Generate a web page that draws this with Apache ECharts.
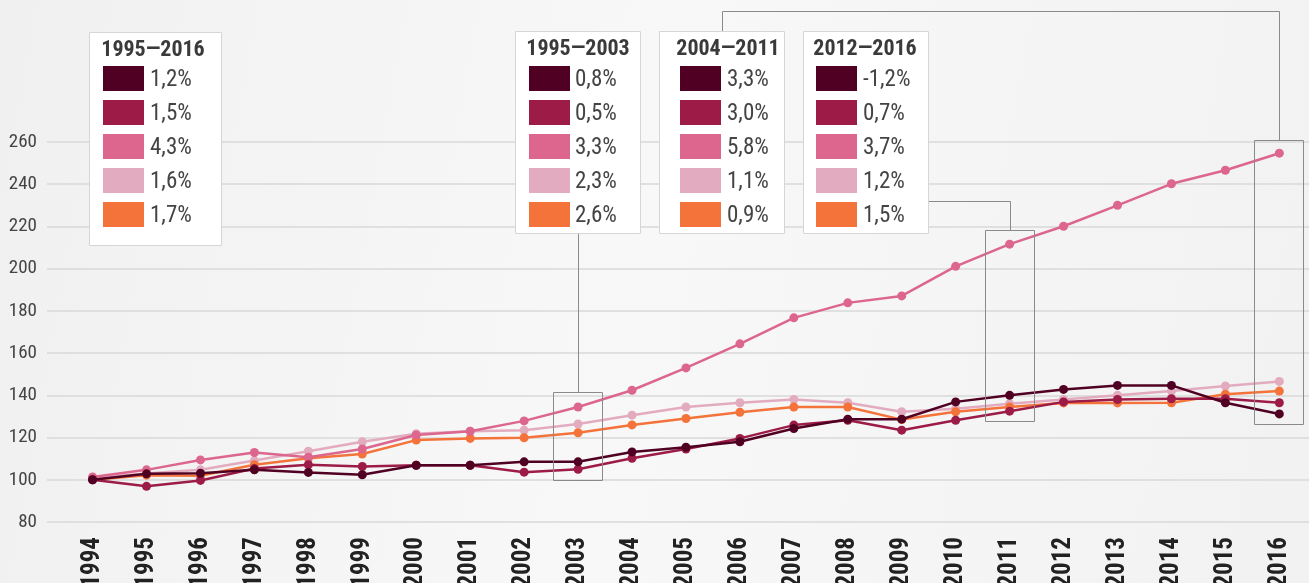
<!DOCTYPE html>
<html>
<head>
<meta charset="utf-8">
<script src="https://cdn.jsdelivr.net/npm/echarts@6/dist/echarts.min.js"></script>
<style>
  html, body { margin: 0; padding: 0; background: #f4f4f4; }
  #main { width: 1309px; height: 583px; }
</style>
</head>
<body>
<div id="main"></div>
<script>
  // data
  var years = ['1994', '1995', '1996', '1997', '1998', '1999', '2000', '2001', '2002', '2003', '2004',
    '2005', '2006', '2007', '2008', '2009', '2010', '2011', '2012', '2013', '2014', '2015', '2016'];
  var darkValues = [100, 102.8, 103.1, 104.7, 103.5, 102.4, 106.9, 106.9, 108.5, 108.5, 113.2,
    115.4, 118, 124.3, 128.7, 128.7, 136.9, 140, 142.8, 144.7, 144.7, 136.5, 131.2];
  var crimsonValues = [100, 96.9, 99.7, 105.3, 107.1, 106.3, 106.9, 106.9, 103.6, 105, 110.2,
    114.6, 119.6, 125.9, 128.2, 123.5, 128.2, 132.5, 136.9, 138, 138.4, 138.4, 136.5];
  var pinkValues = [101.3, 104.7, 109.4, 112.9, 110.7, 114.6, 121.2, 123, 127.9, 134.5, 142.4,
    153, 164.4, 176.7, 183.8, 187.1, 201.1, 211.6, 220.1, 230, 240.2, 246.6, 254.7];
  var lightPinkValues = [100.8, 103, 104.7, 109.1, 113.5, 118, 121.8, 123, 123.5, 126.4, 130.6,
    134.5, 136.5, 138, 136.5, 132.2, 133.7, 136, 138, 140, 142, 144.4, 146.6];
  var orangeValues = [100, 102.2, 101.9, 107.1, 110.2, 112.2, 118.8, 119.6, 119.9, 122.3, 126,
    129, 132, 134.5, 134.5, 128.5, 132.2, 134.5, 136.4, 136.4, 136.5, 140.5, 142];

  var yTicks = [80, 100, 120, 140, 160, 180, 200, 220, 240, 260];

  var periods = ['1995—2016', '1995—2003', '2004—2011', '2012—2016'];
  var rates1995_2016 = ['1,2%', '1,5%', '4,3%', '1,6%', '1,7%'];
  var rates1995_2003 = ['0,8%', '0,5%', '3,3%', '2,3%', '2,6%'];
  var rates2004_2011 = ['3,3%', '3,0%', '5,8%', '1,1%', '0,9%'];
  var rates2012_2016 = ['-1,2%', '0,7%', '3,7%', '1,2%', '1,5%'];

  var colors = ['#500022', '#9d1c47', '#dc668e', '#e3abbf', '#f4733a'];
  var narrow = '"Liberation Sans Narrow", "Roboto Condensed", "DejaVu Sans Condensed", sans-serif';

  var myChart = echarts.init(document.getElementById('main'));

  function lineSeries(name, values, color, z) {
    return {
      name: name,
      type: 'line',
      xAxisIndex: 0,
      yAxisIndex: 0,
      data: values,
      symbol: 'circle',
      symbolSize: 9,
      z: z,
      lineStyle: { color: color, width: 2.5 },
      itemStyle: { color: color }
    };
  }

  var option = {
    animation: false,
    backgroundColor: {
      type: 'linear', x: 0, y: 0, x2: 1, y2: 0.4,
      colorStops: [
        { offset: 0, color: '#f0f0f0' },
        { offset: 0.5, color: '#f8f8f8' },
        { offset: 1, color: '#f2f2f2' }
      ]
    },
    grid: [
      { left: 65.6, right: 2.7, top: 142, bottom: 61, outerBoundsMode: 'none' },
      { left: 47, right: 0, top: 142, bottom: 61, outerBoundsMode: 'none' }
    ],
    xAxis: [{
      type: 'category',
      gridIndex: 0,
      data: years,
      boundaryGap: true,
      axisLine: { show: false },
      axisTick: { show: false },
      axisLabel: {
        interval: 0,
        rotate: 90,
        margin: 15,
        fontSize: 25,
        fontWeight: 'bold',
        color: '#222',
        fontFamily: narrow
      }
    }, {
      type: 'value',
      gridIndex: 1,
      show: false
    }],
    yAxis: [{
      type: 'value',
      gridIndex: 0,
      min: yTicks[0],
      max: yTicks[yTicks.length - 1],
      interval: 20,
      show: false
    }, {
      type: 'value',
      gridIndex: 1,
      min: yTicks[0],
      max: yTicks[yTicks.length - 1],
      interval: 20,
      axisLine: { show: false },
      axisTick: { show: false },
      axisLabel: {
        margin: 10,
        fontSize: 19,
        color: '#444',
        fontFamily: narrow
      },
      splitLine: { lineStyle: { color: '#d9d9d9', width: 1.5 } }
    }],
    series: [
      lineSeries('lightpink', lightPinkValues, colors[3], 2),
      lineSeries('orange', orangeValues, colors[4], 3),
      lineSeries('pink', pinkValues, colors[2], 4),
      lineSeries('crimson', crimsonValues, colors[1], 5),
      lineSeries('dark', darkValues, colors[0], 6)
    ]
  };

  myChart.setOption(option);

  // legend boxes and annotation boxes
  var boxes = [
    { title: periods[0], rates: rates1995_2016, x: 89, y: 32, w: 132, h: 213, sw: 14, tx: 61, tc: 64 },
    { title: periods[1], rates: rates1995_2003, x: 515, y: 31, w: 125, h: 202, sw: 14, tx: 60, tc: 63 },
    { title: periods[2], rates: rates2004_2011, x: 659, y: 31, w: 125, h: 202, sw: 21, tx: 68, tc: 69 },
    { title: periods[3], rates: rates2012_2016, x: 803, y: 31, w: 125, h: 202, sw: 13, tx: 60, tc: 62 }
  ];

  var graphics = [];
  boxes.forEach(function (b) {
    graphics.push({
      type: 'rect', z: 10,
      shape: { x: b.x + 0.5, y: b.y + 0.5, width: b.w, height: b.h },
      style: { fill: '#fff', stroke: '#d6d6d6', lineWidth: 1 }
    });
    graphics.push({
      type: 'text', z: 11,
      style: {
        text: b.title, x: b.x + b.tc, y: b.y + 18,
        font: 'bold 22px ' + narrow, fill: '#3a3a3a',
        align: 'center', verticalAlign: 'middle'
      }
    });
    b.rates.forEach(function (r, i) {
      var ry = 66 + i * 34;
      graphics.push({
        type: 'rect', z: 11,
        shape: { x: b.x + b.sw, y: ry, width: 41, height: 25 },
        style: { fill: colors[i] }
      });
      graphics.push({
        type: 'text', z: 11,
        style: {
          text: r, x: b.x + b.tx, y: ry + 14.5,
          font: '23px ' + narrow, fill: '#444',
          align: 'left', verticalAlign: 'middle'
        }
      });
    });
  });

  function px(year, v) {
    return myChart.convertToPixel({ xAxisIndex: 0, yAxisIndex: 0 }, [year, v]);
  }
  var hl = [
    { year: '2003', top: 141.5, bottom: 100 },
    { year: '2011', top: 218.5, bottom: 128 },
    { year: '2016', top: 261, bottom: 126.5 }
  ];
  var hlRects = hl.map(function (h) {
    var a = px(h.year, h.top), c = px(h.year, h.bottom);
    var x0 = Math.round(a[0] - 25) + 0.5, y0 = Math.round(a[1]) + 0.5;
    graphics.push({
      type: 'rect', z: 9,
      shape: { x: x0, y: y0, width: 49, height: Math.round(c[1] - a[1]) },
      style: { fill: 'none', stroke: '#8a8a8a', lineWidth: 1 }
    });
    return { cx: Math.round(a[0]) + 0.5, top: y0 };
  });
  var lineStyle = { fill: 'none', stroke: '#8a8a8a', lineWidth: 1 };
  // 1995-2003 box to 2003
  graphics.push({
    type: 'polyline', z: 9,
    shape: { points: [[hlRects[0].cx, boxes[1].y + boxes[1].h], [hlRects[0].cx, hlRects[0].top]] },
    style: lineStyle
  });
  // 2012-2016 box to 2011
  graphics.push({
    type: 'polyline', z: 9,
    shape: { points: [[boxes[3].x + boxes[3].w, 201.5], [hlRects[1].cx, 201.5], [hlRects[1].cx, hlRects[1].top]] },
    style: lineStyle
  });
  // 2004-2011 box to 2016
  var c3 = Math.round(boxes[2].x + boxes[2].w / 2) + 0.5;
  graphics.push({
    type: 'polyline', z: 9,
    shape: { points: [[c3, boxes[2].y], [c3, 11.5], [hlRects[2].cx, 11.5], [hlRects[2].cx, hlRects[2].top]] },
    style: lineStyle
  });

  myChart.setOption({ graphic: graphics });

  window.addEventListener('resize', function () {
    myChart.resize();
  });
</script>
</body>
</html>
